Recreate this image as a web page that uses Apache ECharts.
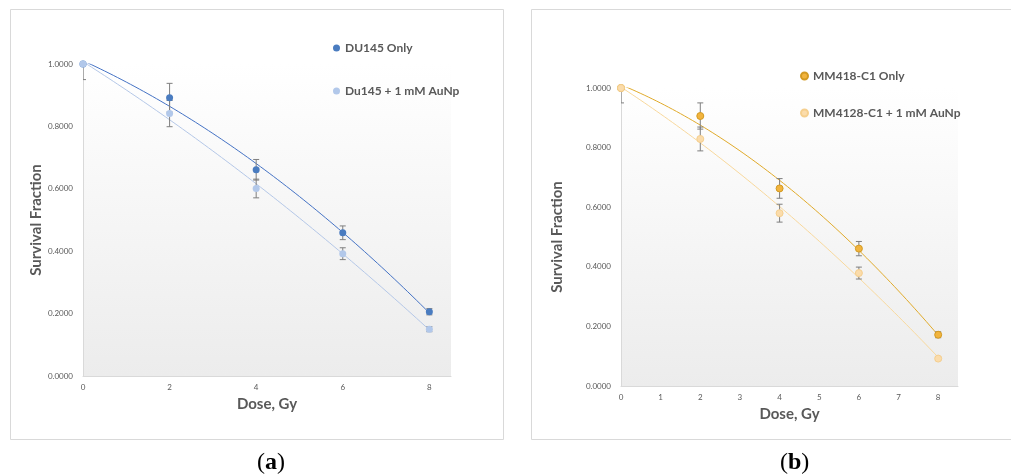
<!DOCTYPE html>
<html>
<head>
<meta charset="utf-8">
<script src="https://cdn.jsdelivr.net/npm/echarts@6/dist/echarts.min.js"></script>
<style>
  html, body { margin: 0; padding: 0; background: #fff; }
  #chart { width: 1011px; height: 475px; }
</style>
</head>
<body>
<div id="chart"></div>
<script>
// doses (Gy)
var doses = [0, 2, 4, 6, 8];

// panel (a) DU145
var du145Only = [1.0, 0.892, 0.661, 0.459, 0.206];
var du145OnlyErr = [0.05, 0.046, 0.033, 0.022, 0.01];
var du145Au = [1.0, 0.841, 0.601, 0.392, 0.150];
var du145AuErr = [0, 0.042, 0.03, 0.019, 0.008];

// panel (b) MM418-C1
var mmOnly = [1.0, 0.906, 0.663, 0.461, 0.172];
var mmOnlyErr = [0.05, 0.044, 0.033, 0.024, 0.01];
var mmAu = [1.0, 0.829, 0.580, 0.379, 0.092];
var mmAuErr = [0, 0.04, 0.03, 0.02, 0.005];

var gray = '#595959';
var font = 'Lato, "Open Sans", sans-serif';

// 2nd order polynomial trendline (least squares), like Excel
function quadFit(xs, ys) {
    var n = xs.length, s = [0, 0, 0, 0, 0], t = [0, 0, 0];
    for (var i = 0; i < n; i++) {
        var x = xs[i], p = 1;
        for (var k = 0; k < 5; k++) { s[k] += p; if (k < 3) t[k] += p * ys[i]; p *= x; }
    }
    // solve 3x3
    var m = [[s[0], s[1], s[2], t[0]], [s[1], s[2], s[3], t[1]], [s[2], s[3], s[4], t[2]]];
    for (var c = 0; c < 3; c++) {
        for (var r = c + 1; r < 3; r++) {
            var f = m[r][c] / m[c][c];
            for (var j = c; j < 4; j++) m[r][j] -= f * m[c][j];
        }
    }
    var co = [0, 0, 0];
    for (var r2 = 2; r2 >= 0; r2--) {
        var v = m[r2][3];
        for (var j2 = r2 + 1; j2 < 3; j2++) v -= m[r2][j2] * co[j2];
        co[r2] = v / m[r2][r2];
    }
    return co;
}

function trend(xs, ys) {
    var co = quadFit(xs, ys), pts = [];
    var x0 = xs[0], x1 = xs[xs.length - 1];
    for (var i = 0; i <= 80; i++) {
        var x = x0 + (x1 - x0) * i / 80;
        pts.push([x, co[0] + co[1] * x + co[2] * x * x]);
    }
    return pts;
}

function pairs(xs, ys) {
    return xs.map(function (x, i) { return [x, ys[i]]; });
}

function errData(xs, ys, es) {
    return xs.map(function (x, i) { return [x, ys[i] - es[i], ys[i] + es[i]]; });
}

function renderErr(params, api) {
    var lo = api.coord([api.value(0), api.value(1)]);
    var hi = api.coord([api.value(0), api.value(2)]);
    var w = 3;
    var st = { stroke: '#7f7f7f', lineWidth: 1 };
    return {
        type: 'group',
        children: [
            { type: 'line', shape: { x1: lo[0], y1: lo[1], x2: hi[0], y2: hi[1] }, style: st },
            { type: 'line', shape: { x1: lo[0] - w, y1: lo[1], x2: lo[0] + w, y2: lo[1] }, style: st },
            { type: 'line', shape: { x1: hi[0] - w, y1: hi[1], x2: hi[0] + w, y2: hi[1] }, style: st }
        ]
    };
}

function xAx(idx, interval) {
    return {
        type: 'value', gridIndex: idx, min: 0, max: 8.5, interval: interval,
        name: 'Dose, Gy', nameLocation: 'middle', nameGap: 21,
        nameTextStyle: { fontFamily: font, fontSize: 15, fontWeight: 'bold', color: gray },
        axisLine: { show: true, lineStyle: { color: '#d9d9d9' } },
        axisTick: { show: false },
        splitLine: { show: false },
        axisLabel: {
            fontFamily: font, fontSize: 8, color: gray, margin: 7,
            formatter: function (v) { return v % 1 === 0 ? String(v) : ''; }
        }
    };
}

function yAx(idx, gap) {
    return {
        type: 'value', gridIndex: idx, min: 0, max: 1, interval: 0.2,
        name: 'Survival Fraction', nameLocation: 'middle', nameGap: gap, nameRotate: 90,
        nameTextStyle: { fontFamily: font, fontSize: 15, fontWeight: 'bold', color: gray },
        axisLine: { show: true, lineStyle: { color: '#d9d9d9' } },
        axisTick: { show: false },
        splitLine: { show: false },
        axisLabel: {
            fontFamily: font, fontSize: 8, color: gray, margin: 10,
            formatter: function (v) { return v.toFixed(4); }
        }
    };
}

var plotBg = new echarts.graphic.LinearGradient(0, 0, 0, 1, [
    { offset: 0, color: '#ffffff' },
    { offset: 1, color: '#ececec' }
]);

var chart = echarts.init(document.getElementById('chart'));

var option = {
    animation: false,
    backgroundColor: '#fff',
    grid: [
        { left: 83, right: 560, top: 64, bottom: 99, show: true, backgroundColor: plotBg, borderWidth: 0 },
        { left: 621, right: 53, top: 88, bottom: 89, show: true, backgroundColor: plotBg, borderWidth: 0 }
    ],
    xAxis: [xAx(0, 2), xAx(1, 1)],
    yAxis: [yAx(0, 37), yAx(1, 56)],
    legend: [
        {
            data: ['DU145 Only', 'Du145 + 1 mM AuNp'],
            orient: 'vertical', left: 328, top: 37, itemGap: 31,
            icon: 'circle', itemWidth: 7, itemHeight: 7,
            textStyle: { fontFamily: font, fontSize: 12, fontWeight: 'bold', color: gray }
        },
        {
            data: ['MM418-C1 Only', 'MM4128-C1 + 1 mM AuNp'],
            orient: 'vertical', left: 795, top: 65, itemGap: 25,
            icon: 'circle', itemWidth: 7, itemHeight: 7,
            textStyle: { fontFamily: font, fontSize: 12, fontWeight: 'bold', color: gray }
        }
    ],
    graphic: [
        { type: 'rect', shape: { x: 10.5, y: 9.5, width: 493, height: 430 }, style: { fill: 'none', stroke: '#d9d9d9', lineWidth: 1 }, silent: true },
        { type: 'rect', shape: { x: 531.5, y: 9.5, width: 500, height: 430 }, style: { fill: 'none', stroke: '#d9d9d9', lineWidth: 1 }, silent: true },
        {
            type: 'text', left: 257, top: 451,
            style: {
                text: '{p|(}{l|a}{p|)}',
                rich: {
                    p: { fontFamily: '"Liberation Serif", serif', fontSize: 24, fill: '#000' },
                    l: { fontFamily: '"Liberation Serif", serif', fontSize: 24, fontWeight: 'bold', fill: '#000' }
                }
            }
        },
        {
            type: 'text', left: 780, top: 451,
            style: {
                text: '{p|(}{l|b}{p|)}',
                rich: {
                    p: { fontFamily: '"Liberation Serif", serif', fontSize: 24, fill: '#000' },
                    l: { fontFamily: '"Liberation Serif", serif', fontSize: 24, fontWeight: 'bold', fill: '#000' }
                }
            }
        }
    ],
    series: [
        // panel a trendlines
        { type: 'line', name: 'trendA1', xAxisIndex: 0, yAxisIndex: 0, data: trend(doses, du145Only), showSymbol: false, lineStyle: { color: '#4472c4', width: 1 }, z: 2 },
        { type: 'line', name: 'trendA2', xAxisIndex: 0, yAxisIndex: 0, data: trend(doses, du145Au), showSymbol: false, lineStyle: { color: '#b4c7e7', width: 1 }, z: 2 },
        // error bars a
        { type: 'custom', name: 'errA1', xAxisIndex: 0, yAxisIndex: 0, data: errData(doses, du145Only, du145OnlyErr), renderItem: renderErr, clip: true, z: 3 },
        { type: 'custom', name: 'errA2', xAxisIndex: 0, yAxisIndex: 0, data: errData(doses, du145Au, du145AuErr), renderItem: renderErr, clip: true, z: 3 },
        // points a
        { type: 'scatter', name: 'DU145 Only', xAxisIndex: 0, yAxisIndex: 0, data: pairs(doses, du145Only), symbolSize: 7, itemStyle: { color: '#4a7cc0', opacity: 1 }, z: 4 },
        { type: 'scatter', name: 'Du145 + 1 mM AuNp', xAxisIndex: 0, yAxisIndex: 0, data: pairs(doses, du145Au), symbolSize: 7, itemStyle: { color: '#b2c8ea', opacity: 1 }, z: 4 },

        // panel b trendlines
        { type: 'line', name: 'trendB1', xAxisIndex: 1, yAxisIndex: 1, data: trend(doses, mmOnly), showSymbol: false, lineStyle: { color: '#e0aa2a', width: 1 }, z: 2 },
        { type: 'line', name: 'trendB2', xAxisIndex: 1, yAxisIndex: 1, data: trend(doses, mmAu), showSymbol: false, lineStyle: { color: '#f8d89c', width: 1 }, z: 2 },
        // error bars b
        { type: 'custom', name: 'errB1', xAxisIndex: 1, yAxisIndex: 1, data: errData(doses, mmOnly, mmOnlyErr), renderItem: renderErr, clip: true, z: 3 },
        { type: 'custom', name: 'errB2', xAxisIndex: 1, yAxisIndex: 1, data: errData(doses, mmAu, mmAuErr), renderItem: renderErr, clip: true, z: 3 },
        // points b
        { type: 'scatter', name: 'MM418-C1 Only', xAxisIndex: 1, yAxisIndex: 1, data: pairs(doses, mmOnly), symbolSize: 7, itemStyle: { color: '#f2b43e', borderColor: '#d39a22', borderWidth: 1, opacity: 1 }, z: 4 },
        { type: 'scatter', name: 'MM4128-C1 + 1 mM AuNp', xAxisIndex: 1, yAxisIndex: 1, data: pairs(doses, mmAu), symbolSize: 7, itemStyle: { color: '#fbdcab', borderColor: '#f5cf8e', borderWidth: 1, opacity: 1 }, z: 4 }
    ]
};

chart.setOption(option);
</script>
</body>
</html>
